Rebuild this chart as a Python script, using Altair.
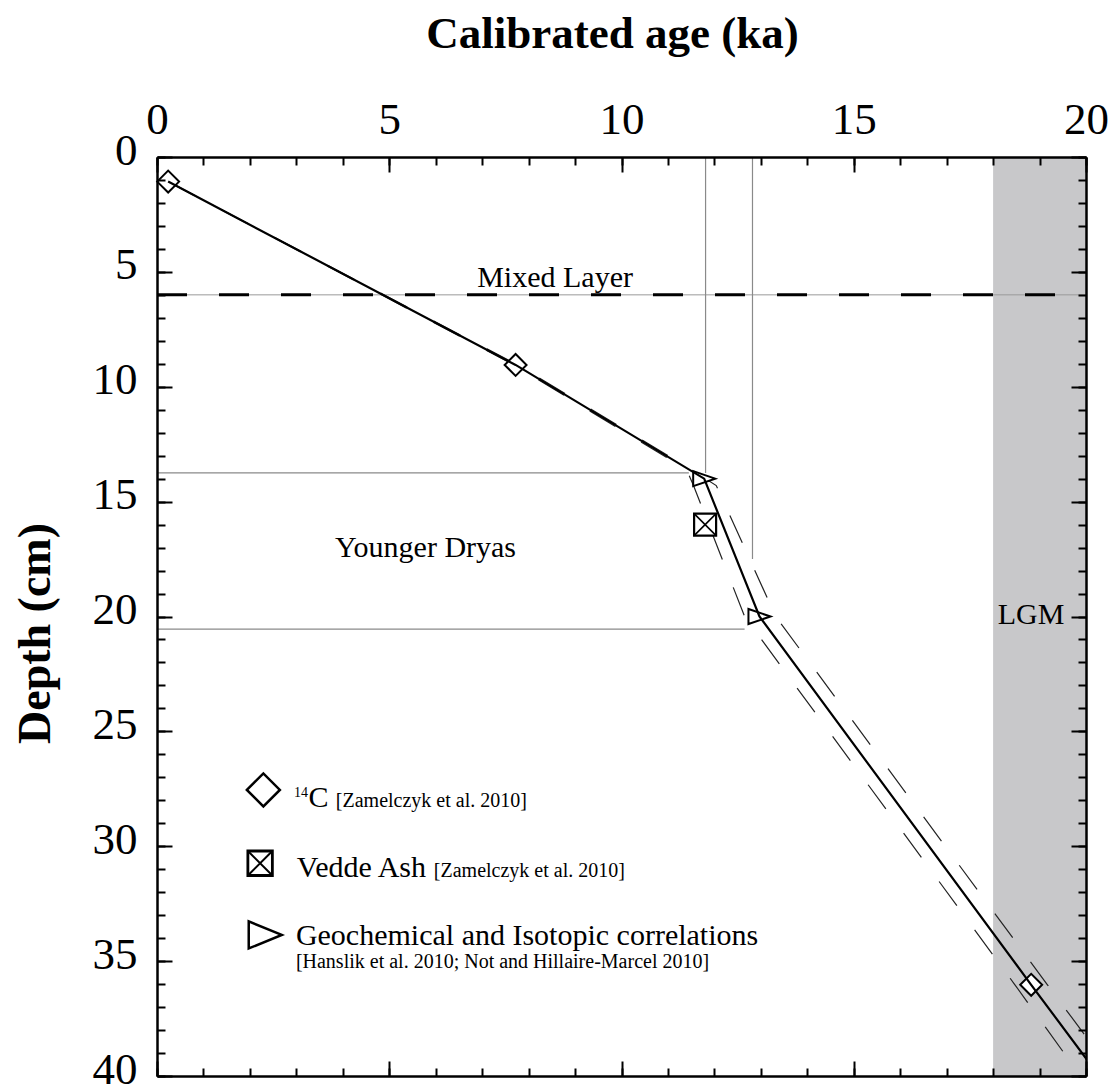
import altair as alt
import pandas as pd

# ---------------- data ----------------
# age model (solid line)
model_ka = [0.24, 7.72, 11.78, 12.97, 18.82, 20.3]
model_depth = [1.07, 9.05, 14.0, 20.0, 36.03, 40.05]

# uncertainty envelope (thin dashed lines)
env_depth = [1.07, 9.05, 13.6, 14.3, 20.0, 36.03, 40.05]
env_older_ka = [0.24, 7.76, 11.50, 12.04, 13.32, 19.17, 20.65]
env_younger_ka = [0.24, 7.68, 11.40, 11.55, 12.65, 18.47, 19.90]

# tie points
c14_ka = [0.24, 7.72, 18.82]
c14_depth = [1.07, 9.05, 36.03]
vedde_ka = [11.80]
vedde_depth = [16.0]
geo_ka = [11.78, 12.97]
geo_depth = [14.0, 20.0]

# reference intervals
lgm_ka = [18.0, 20.0]
mixed_layer_depth = [6.0]
yd_depth = [13.75, 20.55]          # depth of the YD boundaries
yd_hline_end_ka = [11.45, 12.65]   # where the horizontal guides stop
yd_ka = [11.81, 12.82]             # age of the YD boundaries
yd_vline_end_depth = [13.75, 17.5] # where the vertical guides stop

# axis ticks
x_major = [0, 5, 10, 15, 20]
x_minor = list(range(0, 21))
y_major = list(range(0, 41, 5))
y_minor = list(range(0, 41))

# ---------------- layout ----------------
W, H = 929, 919
FONT = "Liberation Serif"
XS = alt.Scale(domain=[0, 20], nice=False, zero=False)
YS = alt.Scale(domain=[0, 40], nice=False, zero=False, reverse=True)


def tick_axis(orient, values, size, offset, domain=False):
    return alt.Axis(orient=orient, values=values, tickSize=size, tickWidth=2,
                    tickColor="black", offset=offset, labels=False, title=None,
                    domain=domain, domainWidth=2.5, domainColor="black",
                    grid=False, zindex=2)


ax_top = alt.Axis(orient="top", values=x_major, ticks=False, domain=True,
                  domainWidth=2.5, domainColor="black", labelPadding=24,
                  labelBaseline="alphabetic", labelFontSize=45, format="d",
                  labelOverlap=False, labelFlush=False,
                  title="Calibrated age (ka)", titleX=455, titleY=-110,
                  titleBaseline="alphabetic", titleAlign="center", titleAngle=0,
                  titleFontSize=45, grid=False, zindex=2)
ax_left = alt.Axis(orient="left", values=y_major, ticks=False, domain=True,
                   domainWidth=2.5, domainColor="black", labelPadding=20,
                   labelAlign="right", labelBaseline="middle", labelOffset=-7,
                   labelFontSize=45, format="d", labelOverlap=False,
                   title="Depth (cm)", titleAngle=-90, titleX=-108, titleY=476,
                   titleBaseline="alphabetic", titleAlign="center",
                   grid=False, zindex=2)

model_df = pd.DataFrame({"ka": model_ka, "depth": model_depth})
n = len(env_depth)
env_df = pd.DataFrame({"ka": env_older_ka + env_younger_ka,
                       "depth": env_depth * 2,
                       "bound": ["older"] * n + ["younger"] * n})
c14_df = pd.DataFrame({"ka": c14_ka, "depth": c14_depth})
vedde_df = pd.DataFrame({"ka": vedde_ka, "depth": vedde_depth})
geo_df = pd.DataFrame({"ka": geo_ka, "depth": geo_depth})
lgm_df = pd.DataFrame({"ka0": [lgm_ka[0]], "ka1": [lgm_ka[1]]})
mixed_df = pd.DataFrame({"depth": mixed_layer_depth})
yd_df = pd.DataFrame({
    "ka0": [0, 0, yd_ka[0], yd_ka[1]],
    "ka1": [yd_hline_end_ka[0], yd_hline_end_ka[1], yd_ka[0], yd_ka[1]],
    "d0": [yd_depth[0], yd_depth[1], 0, 0],
    "d1": [yd_depth[0], yd_depth[1], yd_vline_end_depth[0], yd_vline_end_depth[1]],
})

TRI = "M1,0L-1,-0.68L-1,0.68Z"
TRI_LEG = "M1,0L-1,-0.82L-1,0.82Z"
XMARK = "M-1,-1L1,1M-1,1L1,-1"

lgm = alt.Chart(lgm_df).mark_rect(color="#c8c8ca").encode(
    x=alt.X("ka0:Q", scale=XS, axis=None), x2="ka1:Q",
    y=alt.value(0), y2=alt.value(H))

mixed_thin = alt.Chart(mixed_df).mark_rule(color="#999999", strokeWidth=1).encode(
    y=alt.Y("depth:Q", scale=YS, axis=None), x=alt.value(0), x2=alt.value(W))
mixed_dash = alt.Chart(mixed_df).mark_rule(color="black", strokeWidth=3,
                                           strokeDash=[30, 32]).encode(
    y=alt.Y("depth:Q", scale=YS, axis=None), x=alt.value(0), x2=alt.value(W))

yd = alt.Chart(yd_df).mark_rule(color="#8a8a8a", strokeWidth=1.2).encode(
    x=alt.X("ka0:Q", scale=XS, axis=None), x2="ka1:Q",
    y=alt.Y("d0:Q", scale=YS, axis=None), y2="d1:Q")

env = alt.Chart(env_df).mark_line(color="#222222", strokeWidth=1.2,
                                  strokeDash=[30, 30], clip=True).encode(
    x=alt.X("ka:Q", scale=XS, axis=tick_axis("bottom", x_minor, 8, -H)),
    y=alt.Y("depth:Q", scale=YS, axis=tick_axis("right", y_minor, 8, -W)),
    detail="bound:N", order=alt.Order("depth:Q"))

c14 = alt.Chart(c14_df).mark_point(shape="diamond", size=480, filled=True,
                                   fill="white", stroke="black", strokeWidth=2,
                                   opacity=1).encode(
    x=alt.X("ka:Q", scale=XS, axis=tick_axis("bottom", x_major, 15, -H)),
    y=alt.Y("depth:Q", scale=YS, axis=tick_axis("right", y_major, 15, -W)))

geo = alt.Chart(geo_df).mark_point(shape=TRI, size=484, filled=True,
                                   fill="white", stroke="black", strokeWidth=2,
                                   opacity=1).encode(
    x=alt.X("ka:Q", scale=XS, axis=None),
    y=alt.Y("depth:Q", scale=YS, axis=None))

main = alt.Chart(model_df).mark_line(color="black", strokeWidth=2.2, clip=True).encode(
    x=alt.X("ka:Q", scale=XS, axis=ax_top),
    y=alt.Y("depth:Q", scale=YS, axis=ax_left),
    order=alt.Order("depth:Q"))

vedde_sq = alt.Chart(vedde_df).mark_point(shape="square", size=484, filled=True,
                                          fill="white", stroke="black",
                                          strokeWidth=2.2, opacity=1).encode(
    x=alt.X("ka:Q", scale=XS, axis=tick_axis("top", x_minor, 8, -H, True)),
    y=alt.Y("depth:Q", scale=YS, axis=tick_axis("left", y_minor, 8, -W, True)))
vedde_x = alt.Chart(vedde_df).mark_point(shape=XMARK, size=484, filled=False,
                                         stroke="black", strokeWidth=1.6,
                                         opacity=1).encode(
    x=alt.X("ka:Q", scale=XS, axis=tick_axis("top", x_major, 15, -H)),
    y=alt.Y("depth:Q", scale=YS, axis=tick_axis("left", y_major, 15, -W)))

# ---------------- annotations & legend ----------------
center_notes = pd.DataFrame({"t": ["Mixed Layer", "Younger Dryas"],
                             "ka": [8.57, 5.78], "depth": [5.66, 17.40]})
big_notes = pd.DataFrame({"t": ["LGM", "C", "Vedde Ash",
                                "Geochemical and Isotopic correlations"],
                          "ka": [18.1, 3.26, 3.01, 2.99],
                          "depth": [20.33, 28.29, 31.34, 34.30]})
small_notes = pd.DataFrame({"t": ["[Zamelczyk et al. 2010]",
                                  "[Zamelczyk et al. 2010]",
                                  "[Hanslik et al. 2010; Not and Hillaire-Marcel 2010]"],
                            "ka": [3.85, 5.96, 2.99],
                            "depth": [28.29, 31.34, 35.30]})
sup_notes = pd.DataFrame({"t": ["14"], "ka": [2.95], "depth": [27.86]})


def text_layer(df, size, align):
    return alt.Chart(df).mark_text(font=FONT, fontSize=size, align=align,
                                   baseline="alphabetic", color="black").encode(
        x=alt.X("ka:Q", scale=XS, axis=None),
        y=alt.Y("depth:Q", scale=YS, axis=None), text="t:N")


leg_diamond = pd.DataFrame({"ka": [2.29], "depth": [27.55]})
leg_square = pd.DataFrame({"ka": [2.22], "depth": [30.74]})
leg_tri = pd.DataFrame({"ka": [2.33], "depth": [33.86]})


def sym(df, shape, size, sw, fill=True):
    kw = dict(shape=shape, size=size, stroke="black", strokeWidth=sw, opacity=1)
    if fill:
        kw.update(filled=True, fill="white")
    else:
        kw.update(filled=False)
    return alt.Chart(df).mark_point(**kw).encode(
        x=alt.X("ka:Q", scale=XS, axis=None),
        y=alt.Y("depth:Q", scale=YS, axis=None))


layers = [
    lgm, mixed_thin, mixed_dash, yd, env, c14, geo, main, vedde_sq, vedde_x,
    text_layer(center_notes, 30, "center"),
    text_layer(big_notes, 30, "left"),
    text_layer(small_notes, 20, "left"),
    text_layer(sup_notes, 14, "left"),
    sym(leg_diamond, "diamond", 1089, 2.5),
    sym(leg_square, "square", 600, 2.8),
    sym(leg_square, XMARK, 600, 2.0, fill=False),
    sym(leg_tri, TRI_LEG, 1089, 2.5),
]

chart = alt.layer(*layers).resolve_axis(x="independent", y="independent").properties(
    width=W, height=H,
    autosize=alt.AutoSizeParams(type="none"),
    padding={"left": 149, "top": 149, "right": 22, "bottom": 10},
).configure_axis(
    labelFont=FONT, titleFont=FONT, labelColor="black", titleColor="black",
    titleFontSize=46, titleFontWeight="bold", grid=False,
).configure_view(stroke="transparent", strokeWidth=0)

chart.save("out.html", embed_options={"renderer": "svg", "actions": False})
